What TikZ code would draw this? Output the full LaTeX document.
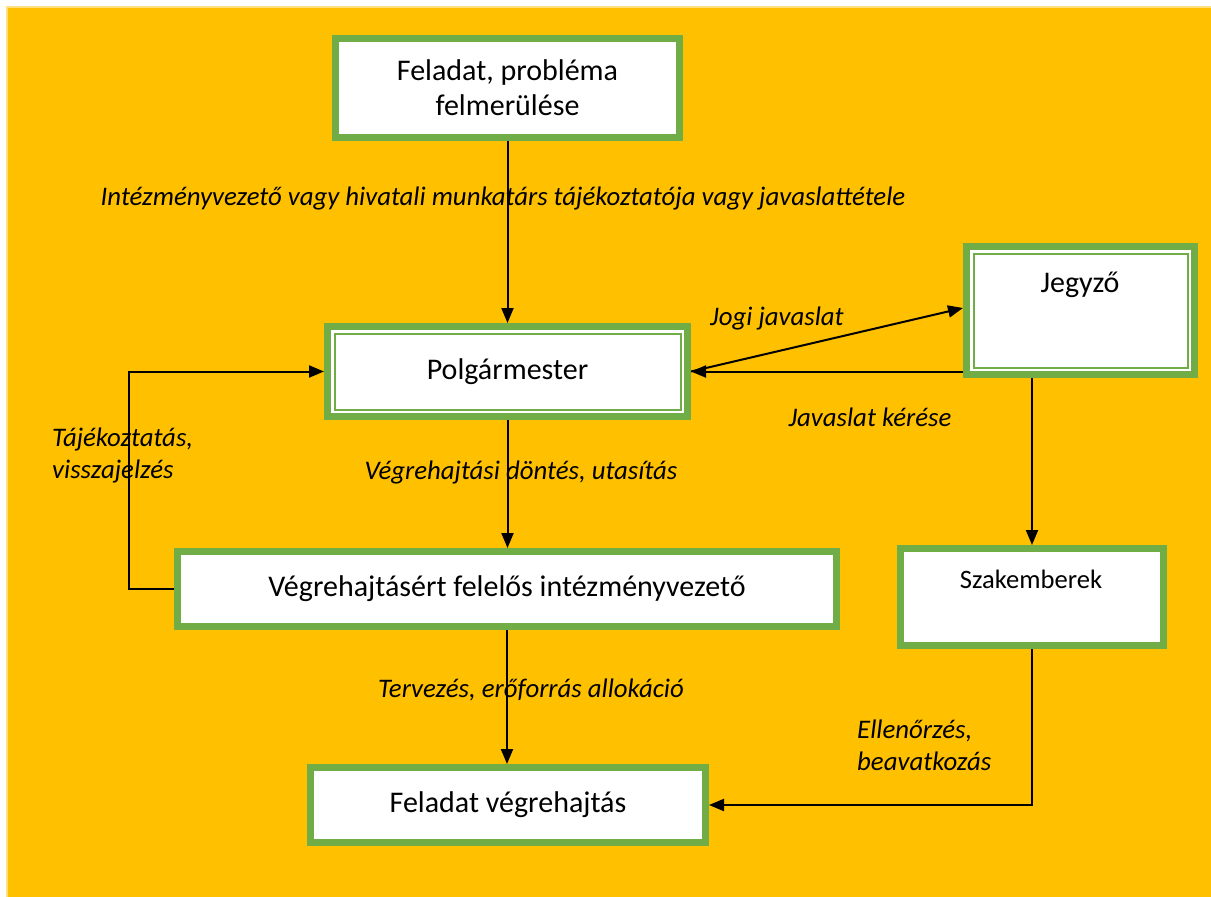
\documentclass[tikz,border=0pt]{standalone}
\usepackage{fontspec}
\setmainfont{Carlito}
\usetikzlibrary{arrows.meta,calc}
\definecolor{org}{HTML}{FFC000}
\definecolor{grn}{HTML}{70AD47}
\definecolor{orgl}{HTML}{FFDF80}
\begin{document}
\begin{tikzpicture}[x=1pt,y=-1pt,
 box/.style={draw=grn, line width=7pt, fill=white, inner sep=0pt, font=\fontsize{30}{35}\selectfont, align=center},
 btext/.style={inner sep=0pt, font=\fontsize{30}{35}\selectfont},
 stext/.style={inner sep=0pt, font=\fontsize{26.6}{32}\selectfont},
 lbl/.style={font=\fontsize{26.8}{32}\selectfont\itshape, inner sep=0pt},
 arr/.style={line width=2pt, -{Triangle[length=15pt,width=12pt]}},
 innerline/.style={draw=grn, line width=2pt}]
\useasboundingbox (0,0) rectangle (1211,897);
\fill[white] (0,0) rectangle (1211,897);
\fill[org] (7,7) rectangle (1211,897);
\draw[orgl, line width=2pt] (7,897) -- (7,7) -- (1211,7);

\node[box, minimum width=344pt, minimum height=99pt] (fel) at (507.5,88) {Feladat, probléma\\felmerülése};
\node[box, minimum width=360pt, minimum height=90pt] (pol) at (507.5,371.5) {Polgármester};
\draw[innerline] ([shift={(10.5pt,-10.5pt)}]pol.north west) rectangle ([shift={(-10.5pt,10.5pt)}]pol.south east);
\node[box, minimum width=228pt, minimum height=128pt] (jeg) at (1080.5,310.5) {};
\draw[innerline] ([shift={(10.5pt,-10.5pt)}]jeg.north west) rectangle ([shift={(-10.5pt,10.5pt)}]jeg.south east);
\node[btext] (jegt) at (1080,285) {Jegyző};
\node[box, minimum width=263pt, minimum height=97pt] (szak) at (1032,597) {};
\node[stext] (szakt) at (1031,579) {Szakemberek};
\node[box, minimum width=659pt, minimum height=75pt] (vegr) at (507,589) {Végrehajtásért felelős intézményvezető};
\node[box, minimum width=395pt, minimum height=75pt] (fv) at (508,805) {Feladat végrehajtás};

\draw[arr] (fel.south) -- (pol.north);
\draw[arr] (pol.south) -- (pol.south |- vegr.north);
\draw[arr] (vegr.south) -- (vegr.south |- fv.north);
\draw[arr] (vegr.west) -- ++(-45,0) |- (pol.west);
\draw[arr] (jeg.west |- pol.east) -- (pol.east);
\draw[arr] (pol.east) -- ($(jeg.west)+(0,-2.5)$);
\draw[arr] (jeg.south -| szak.north) -- (szak.north);
\draw[arr] (szak.south) |- (fv.east);

\node[lbl] (l1) at (503,198) {Intézményvezető vagy hivatali munkatárs tájékoztatója vagy javaslattétele};
\node[lbl] (l2) at (777,318) {Jogi javaslat};
\node[lbl] (l3) at (870,417) {Javaslat kérése};
\node[lbl, anchor=west, align=left] (l4) at (52,455) {Tájékoztatás,\\visszajelzés};
\node[lbl] (l5) at (521,472) {Végrehajtási döntés, utasítás};
\node[lbl] (l6) at (531,690) {Tervezés, erőforrás allokáció};
\node[lbl, anchor=west, align=left] (l7) at (857,745) {Ellenőrzés,\\beavatkozás};
\end{tikzpicture}
\end{document}
